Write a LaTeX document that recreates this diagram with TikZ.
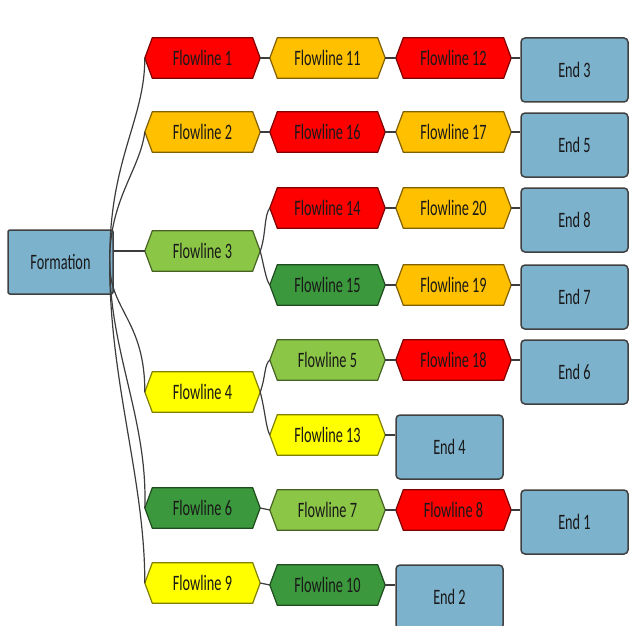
\documentclass[tikz,border=0pt]{standalone}
\usepackage{fontspec}
\setmainfont[FakeStretch=0.65]{Carlito}
\usetikzlibrary{backgrounds}
\definecolor{cred}{RGB}{255,0,0}
\definecolor{corange}{RGB}{255,192,0}
\definecolor{clgreen}{RGB}{140,198,70}
\definecolor{cdgreen}{RGB}{60,152,60}
\definecolor{cyellow}{RGB}{255,255,0}
\definecolor{cblue}{RGB}{125,178,205}
\definecolor{cline}{RGB}{60,60,60}
\definecolor{ctext}{RGB}{25,25,25}
\newcommand\fhex[4]{%
  \node[hexbox] (#1) at (#2) {#4};
  \begin{pgfonlayer}{background}
  \filldraw[fill=#3, draw=#3!50!black, line width=1.2pt, line join=miter]
    (#1.west) -- ([xshift=7.5pt]#1.north west) -- ([xshift=-7.5pt]#1.north east)
    -- (#1.east) -- ([xshift=-7.5pt]#1.south east) -- ([xshift=7.5pt]#1.south west) -- cycle;
  \end{pgfonlayer}}
\begin{document}
\begin{tikzpicture}[x=1pt,y=-1pt,
  every node/.style={font=\fontsize{22}{24}\selectfont, text=ctext},
  hexbox/.style={rectangle, minimum width=115pt, minimum height=40pt, inner sep=0pt},
  endbox/.style={rectangle, rounded corners=4pt, fill=cblue, draw=black!75, line width=1.5pt,
    minimum width=107pt, minimum height=64pt, inner sep=0pt},
  conn/.style={draw=cline, line width=1.2pt}]
\useasboundingbox (0,0) rectangle (643,626);

% Formation
\node[endbox, rounded corners=2pt, minimum width=105pt] (Fo) at (60.5,262) {Formation};

% column 1
\fhex{F1}{202.5,58}{cred}{Flowline 1}
\fhex{F2}{202.5,132}{corange}{Flowline 2}
\fhex{F3}{202.5,251}{clgreen}{Flowline 3}
\fhex{F4}{202.5,392}{cyellow}{Flowline 4}
\fhex{F6}{202.5,508}{cdgreen}{Flowline 6}
\fhex{F9}{202.5,583}{cyellow}{Flowline 9}

% column 2
\fhex{F11}{327.5,58}{corange}{Flowline 11}
\fhex{F16}{327.5,132}{cred}{Flowline 16}
\fhex{F14}{327.5,208}{cred}{Flowline 14}
\fhex{F15}{327.5,285}{cdgreen}{Flowline 15}
\fhex{F5}{327.5,360}{clgreen}{Flowline 5}
\fhex{F13}{327.5,435}{cyellow}{Flowline 13}
\fhex{F7}{327.5,510}{clgreen}{Flowline 7}
\fhex{F10}{327.5,585}{cdgreen}{Flowline 10}

% column 3
\fhex{F12}{453.5,58}{cred}{Flowline 12}
\fhex{F17}{453.5,132}{corange}{Flowline 17}
\fhex{F20}{453.5,208}{corange}{Flowline 20}
\fhex{F19}{453.5,285}{corange}{Flowline 19}
\fhex{F18}{453.5,360}{cred}{Flowline 18}
\fhex{F8}{453.5,510}{cred}{Flowline 8}

% end boxes
\node[endbox] (E3) at (574.5,70) {End 3};
\node[endbox] (E5) at (574.5,145) {End 5};
\node[endbox] (E8) at (574.5,220) {End 8};
\node[endbox] (E7) at (574.5,297) {End 7};
\node[endbox] (E6) at (574.5,372) {End 6};
\node[endbox] (E1) at (574.5,522) {End 1};
\node[endbox] (E4) at (449.5,447) {End 4};
\node[endbox] (E2) at (449.5,597) {End 2};

% formation connectors
\coordinate (s) at ([xshift=-4pt]Fo.east);
\draw[conn] (s) .. controls (109,160) and (145,120) .. (F1.west);
\draw[conn] (s) .. controls (109,200) and (140,170) .. (F2.west);
\draw[conn] (Fo.east |- F3.west) -- (F3.west);
\draw[conn] (s) .. controls (109,310) and (145,320) .. (F4.west);
\draw[conn] (s) .. controls (109,350) and (148,420) .. (F6.west);
\draw[conn] (s) .. controls (109,380) and (145,480) .. (F9.west);

% branches
\draw[conn] (F3.east) .. controls (266,236) and (264,215) .. (F14.west);
\draw[conn] (F3.east) .. controls (264,266) and (266,280) .. (F15.west);
\draw[conn] (F4.east) .. controls (266,376) and (264,365) .. (F5.west);
\draw[conn] (F4.east) .. controls (265,410) and (266,428) .. (F13.west);

% row connectors
\draw[conn] (F1.east) -- (F11.west);
\draw[conn] (F11.east) -- (F12.west);
\draw[conn] (F12.east) -- (F12.east -| E3.west);
\draw[conn] (F2.east) -- (F16.west);
\draw[conn] (F16.east) -- (F17.west);
\draw[conn] (F17.east) -- (F17.east -| E5.west);
\draw[conn] (F14.east) -- (F20.west);
\draw[conn] (F20.east) -- (F20.east -| E8.west);
\draw[conn] (F15.east) -- (F19.west);
\draw[conn] (F19.east) -- (F19.east -| E7.west);
\draw[conn] (F5.east) -- (F18.west);
\draw[conn] (F18.east) -- (F18.east -| E6.west);
\draw[conn] (F13.east) -- (F13.east -| E4.west);
\draw[conn] (F6.east) -- (F7.west);
\draw[conn] (F7.east) -- (F8.west);
\draw[conn] (F8.east) -- (F8.east -| E1.west);
\draw[conn] (F9.east) -- (F10.west);
\draw[conn] (F10.east) -- (F10.east -| E2.west);
\end{tikzpicture}
\end{document}
